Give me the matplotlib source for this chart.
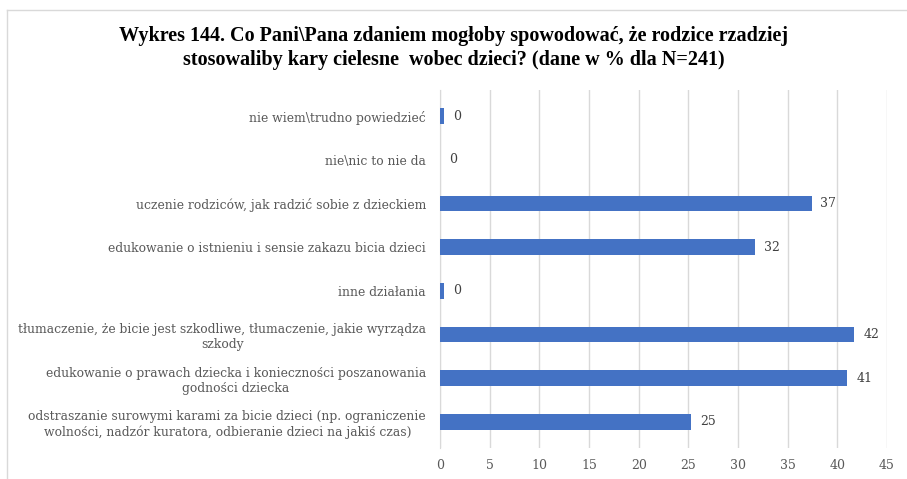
import matplotlib.pyplot as plt
from matplotlib.lines import Line2D

plt.rcParams['font.family'] = ['DejaVu Serif']

categories = [
    'nie wiem\\trudno powiedzieć',
    'nie\\nic to nie da',
    'uczenie rodziców, jak radzić sobie z dzieckiem',
    'edukowanie o istnieniu i sensie zakazu bicia dzieci',
    'inne działania',
    'tłumaczenie, że bicie jest szkodliwe, tłumaczenie, jakie wyrządza\nszkody',
    'edukowanie o prawach dziecka i konieczności poszanowania\ngodności dziecka',
    'odstraszanie surowymi karami za bicie dzieci (np. ograniczenie\nwolności, nadzór kuratora, odbieranie dzieci na jakiś czas)',
]
values = [0.4, 0.0, 37.4, 31.7, 0.4, 41.7, 41.0, 25.3]
labels = ['0', '0', '37', '32', '0', '42', '41', '25']
xticks = [0, 5, 10, 15, 20, 25, 30, 35, 40, 45]

title = ('Wykres 144. Co Pani\\Pana zdaniem mogłoby spowodować, że rodzice rzadziej\n'
         'stosowaliby kary cielesne  wobec dzieci? (dane w % dla N=241)')

grey = '#595959'
fig = plt.figure(figsize=(9.07, 4.79), dpi=100)
ax = fig.add_axes([440 / 907, 1 - 448 / 479, 447 / 907, 358 / 479])

ypos = list(range(len(categories)))[::-1]
ax.barh(ypos, values, height=0.36, color='#4472c4', zorder=3)
for y, v, lab in zip(ypos, values, labels):
    ax.text(v + 0.9, y, lab, va='center', ha='left', fontsize=9, color='#404040')

ax.set_xlim(0, 45)
ax.set_ylim(-0.6, len(categories) - 0.4)
ax.set_xticks(xticks)
ax.set_yticks(ypos)
ax.set_yticklabels(categories, color=grey, multialignment='center', linespacing=1.25)
ax.tick_params(axis='both', length=0, colors=grey, labelsize=9)
ax.tick_params(axis='y', labelsize=8.9, pad=10)
ax.tick_params(axis='x', pad=8)
ax.grid(axis='x', color='#d9d9d9', linewidth=1, zorder=0)
for s in ['top', 'right', 'bottom']:
    ax.spines[s].set_visible(False)
ax.spines['left'].set_color('#d9d9d9')

fig.text(0.5, 1 - 48 / 479, title, ha='center', va='center', fontsize=14.5,
         fontweight='bold', color='black', linespacing=1.2,
         family=['Liberation Serif', 'DejaVu Serif'])

# chart border (top and left visible)
fig.add_artist(Line2D([7 / 907, 1], [1 - 10 / 479, 1 - 10 / 479], color='#d9d9d9', lw=1))
fig.add_artist(Line2D([7 / 907, 7 / 907], [0, 1 - 10 / 479], color='#d9d9d9', lw=1))

fig.savefig('out.png', dpi=100)
